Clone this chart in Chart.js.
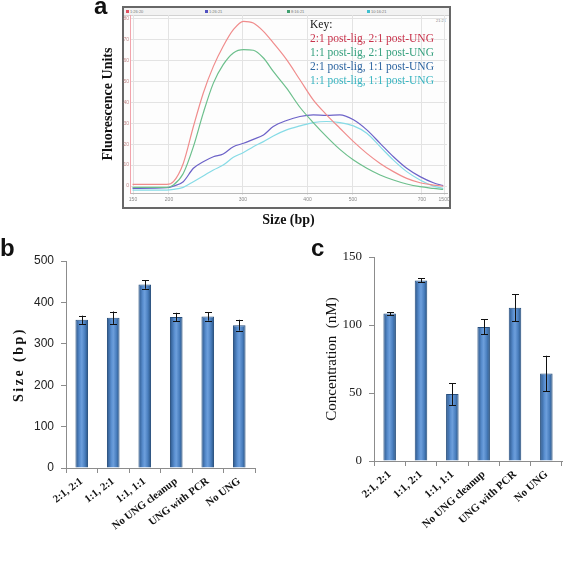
<!DOCTYPE html>
<html>
<head>
<meta charset="utf-8">
<script src="https://cdn.jsdelivr.net/npm/chart.js@4.4.0/dist/chart.umd.min.js"></script>
<style>
  body { margin: 0; background: #fff; }
  #page { position: relative; width: 567px; height: 562px; overflow: hidden; }
  canvas { position: absolute; }
  .lbl { position: absolute; font: bold 24px Arial, "Liberation Sans", sans-serif; line-height: 24px; color: #111; }
  .frame { position: absolute; left: 122px; top: 6px; width: 325px; height: 199px; border: 2px solid #676767; background: #fdfdfd; }
  .hdr { position: absolute; left: 0; top: 0; right: 0; height: 7px; background: #f2f2f2; border-bottom: 1px solid #d2d2d2; font: 4px Arial, sans-serif; color: #777; }
  .hdr span { position: absolute; top: 1px; }
  .hdr i { display: inline-block; width: 3px; height: 3px; margin-right: 1px; }
  .clock { position: absolute; right: 3px; top: 10px; font: 4px Arial, sans-serif; color: #888; }
  .key { position: absolute; left: 310px; top: 17px; font: 11.5px "Liberation Serif", "Times New Roman", serif; line-height: 14px; color: #111; z-index: 3; white-space: nowrap; }
</style>
</head>
<body>
<div id="page">
  <div class="frame">
    <div class="hdr">
      <span style="left:2px"><i style="background:#e05060"></i>1:26:20</span>
      <span style="left:81px"><i style="background:#5050c0"></i>1:26:21</span>
      <span style="left:163px"><i style="background:#40a070"></i>8:16:21</span>
      <span style="left:243px"><i style="background:#40c0d0"></i>10:16:21</span>
    </div>
    <div class="clock">21:21</div>
  </div>
  <canvas id="chartA" width="370" height="232" style="left:90px;top:0;z-index:2"></canvas>
  <div class="key">
    <div>Key:</div>
    <div style="color:#c8324b">2:1 post-lig, 2:1 post-UNG</div>
    <div style="color:#35a07e">1:1 post-lig, 2:1 post-UNG</div>
    <div style="color:#2c64a0">2:1 post-lig, 1:1 post-UNG</div>
    <div style="color:#38b4c0">1:1 post-lig, 1:1 post-UNG</div>
  </div>
  <canvas id="chartB" width="290" height="322" style="left:0;top:240px"></canvas>
  <canvas id="chartC" width="245" height="322" style="left:322px;top:240px"></canvas>
  <div class="lbl" style="left:94px;top:-6px;z-index:4">a</div>
  <div class="lbl" style="left:0;top:236px">b</div>
  <div class="lbl" style="left:311px;top:236px">c</div>
</div>

<script>
// panel a: electropherogram traces (x = migration position along the run, 0..100)
const sizePos = [0.8, 11.6, 13.7, 16.8, 20.0, 23.1, 26.3, 29.4, 32.6, 35.8, 38.9, 42.1, 45.2,
                 49.4, 53.6, 57.8, 62.0, 66.2, 70.5, 74.7, 78.9, 83.1, 87.3, 91.5, 95.7, 98.8];
const trace21_21 = [0.8, 0.8, 2.1, 10.8, 28.4, 44.3, 57.1, 66.7, 74.6, 78.6, 77.8, 73.8, 68.3,
                    60.3, 50.7, 41.1, 34.0, 27.6, 21.2, 15.6, 10.8, 6.9, 3.7, 1.6, 0.5, 0.0];
const trace11_21 = [-0.6, -0.6, 0.5, 6.0, 18.8, 34.8, 49.1, 57.9, 63.5, 65.1, 64.8, 61.1, 54.7,
                    46.7, 37.6, 30.3, 23.6, 17.5, 12.4, 8.5, 5.3, 2.9, 1.0, -0.3, -1.1, -1.6];
const trace21_11 = [-1.1, -0.8, 0.0, 2.1, 8.5, 11.6, 14.0, 15.3, 18.8, 20.4, 22.3, 24.4, 28.4,
                    31.3, 33.2, 34.0, 33.7, 34.0, 31.6, 26.8, 20.4, 14.0, 8.5, 4.5, 1.6, 0.2];
const trace11_11 = [-1.9, -1.9, -1.6, -0.6, 2.1, 4.8, 7.7, 10.0, 13.7, 16.0, 18.8, 21.2, 23.9,
                    26.8, 28.7, 30.3, 30.8, 30.3, 28.7, 25.2, 18.8, 12.4, 6.9, 2.9, 0.0, -1.1];
const traceNames = ['2:1 post-lig, 2:1 post-UNG', '1:1 post-lig, 2:1 post-UNG',
                    '2:1 post-lig, 1:1 post-UNG', '1:1 post-lig, 1:1 post-UNG'];
const traceColors = ['#f08c8c', '#6cbf8c', '#6c62c8', '#86dbe6'];
const sizeTickPos = [0.95, 12.3, 35.6, 56.0, 70.3, 92.1, 99.1];
const sizeTickLabels = ['150', '200', '300', '400', '500', '700', '1500'];
const fluorTicks = [0, 10, 20, 30, 40, 50, 60, 70, 80];

// panels b and c
const sampleLabels = ['2:1, 2:1', '1:1, 2:1', '1:1, 1:1', 'No UNG cleanup', 'UNG with PCR', 'No UNG'];
const sizeMeans = [358, 363, 443, 365, 366, 345];
const sizeErrors = [10, 15, 10, 10, 10, 13];
const concMeans = [108.4, 132.8, 49.2, 98.6, 112.6, 64.4];
const concErrors = [1, 1.5, 8, 5.5, 10, 13];

const serif = '"Liberation Serif", "Times New Roman", serif';
const sans = 'Arial, "Liberation Sans", sans-serif';

const traces = [trace21_21, trace11_21, trace21_11, trace11_11];

new Chart(document.getElementById('chartA'), {
    type: 'line',
    data: {
        datasets: traces.map((t, k) => ({
            label: traceNames[k],
            data: sizePos.map((x, i) => ({ x: x, y: t[i] })),
            borderColor: traceColors[k],
            borderWidth: 1.2,
            pointRadius: 0,
            cubicInterpolationMode: 'monotone',
            fill: false
        }))
    },
    options: {
        responsive: false,
        animation: false,
        layout: { padding: { top: 15, right: 13 } },
        plugins: { legend: { display: false }, tooltip: { enabled: false } },
        scales: {
            x: {
                type: 'linear', min: 0, max: 100,
                afterBuildTicks: s => { s.ticks = sizeTickPos.map(v => ({ value: v })); },
                afterFit: s => { s.height = 39; },
                ticks: { callback: (v, i) => sizeTickLabels[i], font: { size: 5, family: sans }, color: '#888', padding: 2, maxRotation: 0, autoSkip: false },
                grid: { color: '#e3e3e3', tickLength: 2 },
                border: { color: '#b8b8b8' },
                title: { display: true, text: 'Size (bp)', color: '#111', font: { family: serif, size: 14, weight: 'bold' }, padding: { top: 0, bottom: 3.6 } }
            },
            y: {
                min: -3.3, max: 81.6,
                afterBuildTicks: s => { s.ticks = fluorTicks.map(v => ({ value: v })); },
                afterFit: s => { s.width = 40; },
                ticks: { font: { size: 5, family: sans }, color: '#c08888', padding: 1 },
                grid: { color: '#e3e3e3', tickLength: 0 },
                border: { color: '#f2a4ac' },
                title: { display: true, text: 'Fluorescence Units', color: '#111', font: { family: serif, size: 14, weight: 'bold' }, padding: { top: 9.6, bottom: 0 } }
            }
        }
    }
});

// cylinder-like shading across each bar
function barFill(context) {
    const chart = context.chart;
    if (!chart.chartArea) return '#4a7ebb';
    const x = chart.scales.x;
    const cx = x.getPixelForValue(context.dataIndex);
    const half = x.width / sampleLabels.length * 0.4 / 2;
    const g = chart.ctx.createLinearGradient(cx - half, 0, cx + half, 0);
    g.addColorStop(0, '#2a5589');
    g.addColorStop(0.35, '#5a8fd0');
    g.addColorStop(0.5, '#6d9fdc');
    g.addColorStop(0.75, '#4a7fbf');
    g.addColorStop(1, '#27517f');
    return g;
}

const errorBars = {
    id: 'errorBars',
    afterDatasetsDraw(chart, args, opts) {
        const ctx = chart.ctx;
        const y = chart.scales.y;
        const meta = chart.getDatasetMeta(0);
        const values = chart.data.datasets[0].data;
        ctx.save();
        ctx.strokeStyle = '#111';
        ctx.lineWidth = 1;
        meta.data.forEach((bar, i) => {
            const top = y.getPixelForValue(values[i] + opts.errors[i]);
            const bot = y.getPixelForValue(values[i] - opts.errors[i]);
            const cx = Math.round(bar.x) + 0.5;
            ctx.beginPath();
            ctx.moveTo(cx, top); ctx.lineTo(cx, bot);
            ctx.moveTo(cx - 3.5, Math.round(top) + 0.5); ctx.lineTo(cx + 3.5, Math.round(top) + 0.5);
            ctx.moveTo(cx - 3.5, Math.round(bot) + 0.5); ctx.lineTo(cx + 3.5, Math.round(bot) + 0.5);
            ctx.stroke();
        });
        ctx.restore();
    }
};

// wide letter spacing for the axis title of panel b (tick labels are drawn later, on z 1)
const spacedTitle = {
    id: 'spacedTitle',
    beforeDraw(chart, args, opts) { chart.ctx.letterSpacing = opts.spacing || '0px'; },
    beforeDatasetsDraw(chart) { chart.ctx.letterSpacing = '0px'; }
};

function barChart(id, means, errors, yMax, yStep, yTickFont, yTitle, titleFont, titlePad, labelSize, rotation, fit, pad, spacing) {
    return new Chart(document.getElementById(id), {
        type: 'bar',
        data: {
            labels: sampleLabels,
            datasets: [{
                data: means,
                backgroundColor: barFill,
                borderColor: '#274f7e',
                borderWidth: 1,
                barPercentage: 0.4,
                categoryPercentage: 1.0
            }]
        },
        plugins: [errorBars, spacedTitle],
        options: {
            responsive: false,
            animation: false,
            layout: { padding: pad },
            plugins: {
                legend: { display: false },
                tooltip: { enabled: false },
                errorBars: { errors: errors },
                spacedTitle: { spacing: spacing }
            },
            scales: {
                x: {
                    afterFit: s => { s.height = fit.x; },
                    ticks: { z: 1, autoSkip: false, minRotation: rotation, maxRotation: rotation, color: '#111', padding: 2, font: { family: serif, size: labelSize, weight: 'bold' } },
                    grid: { drawOnChartArea: false, tickLength: 5, color: '#8c8c8c' },
                    border: { color: '#8c8c8c' }
                },
                y: {
                    min: 0, max: yMax,
                    afterFit: s => { s.width = fit.y; },
                    ticks: { z: 1, stepSize: yStep, color: '#222', padding: 7, font: yTickFont },
                    grid: { drawOnChartArea: false, tickLength: 5, color: '#8c8c8c' },
                    border: { color: '#8c8c8c' },
                    title: { display: true, text: yTitle, color: '#111', font: titleFont, padding: { top: titlePad, bottom: 0 } }
                }
            }
        }
    });
}

barChart('chartB', sizeMeans, sizeErrors, 500, 100, { family: sans, size: 12 },
    'Size (bp)', { family: serif, size: 14, weight: 'bold' }, 11, 10.8, 37,
    { x: 94, y: 66 }, { top: 21, right: 35 }, '2.5px');

barChart('chartC', concMeans, concErrors, 150, 50, { family: serif, size: 13 },
    'Concentration  (nM)', { family: serif, size: 15 }, 0.7, 11, 42,
    { x: 101, y: 52 }, { top: 17, right: 5 }, '0px');
</script>
</body>
</html>
